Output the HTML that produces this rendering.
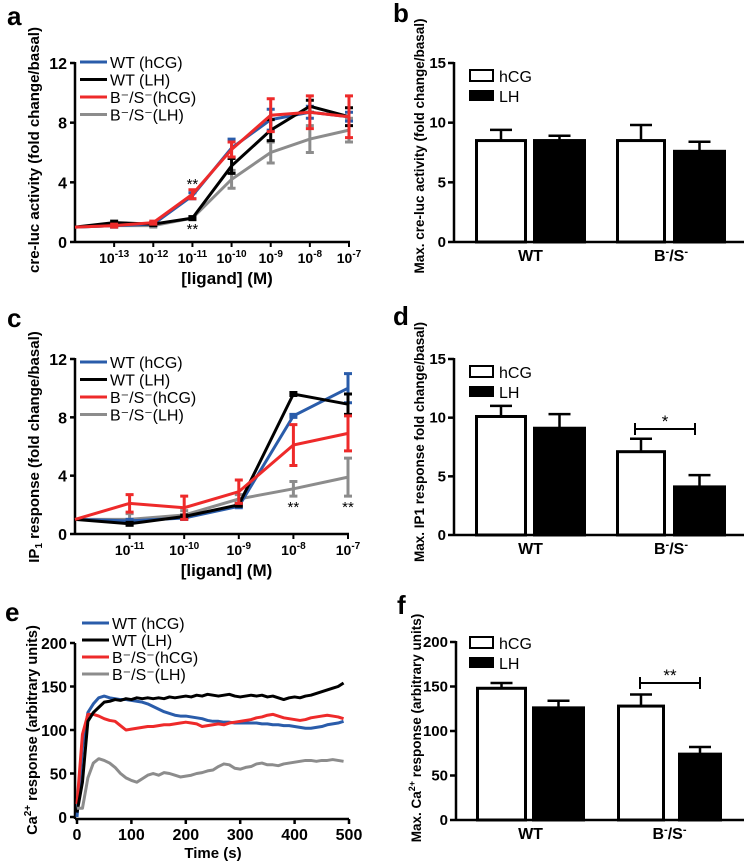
<!DOCTYPE html>
<html><head><meta charset="utf-8"><style>
body{margin:0;background:#fff;}
svg{display:block;font-family:"Liberation Sans",Arial,sans-serif;}
.t{font-weight:bold;}
.lg{font-size:16px;}
</style></head><body>
<svg id="fig" width="744" height="866" viewBox="0 0 744 866"></svg>
<script>
// ---- Panel a data ----
const aTicks = ["-13","-12","-11","-10","-9","-8","-7"];
const aBlue  = [1,1.1,1.2,3.1,6.3,8.2,8.7,8.4];
const aBlack = [1,1.3,1.2,1.6,5.1,7.5,9.1,8.4];
const aRed   = [1,1.1,1.3,3.2,6.2,8.5,8.7,8.4];
const aGray  = [1,1.1,1.1,1.6,4.2,6.0,6.9,7.5];
const aRedErr  = [0,0.1,0.1,0.3,0.5,1.1,1.1,1.4];
const aGrayErr = [0,0.1,0.1,0.1,0.6,0.7,0.9,0.8];
const aBlackErr= [0,0.1,0.1,0.1,0.5,0.7,0.4,0.6];
const aBlueErr = [0,0.1,0.1,0.2,0.6,0.7,0.4,0.3];
// ---- Panel c data ----
const cTicks = ["-11","-10","-9","-8","-7"];
const cBlue  = [1,0.9,1.1,1.9,8.1,10];
const cBlack = [1,0.7,1.2,2.0,9.6,8.9];
const cRed   = [1,2.1,1.8,2.9,6.1,6.9];
const cGray  = [1,1.0,1.3,2.4,3.1,3.9];
const cRedErr  = [0,0.6,0.8,0.8,1.4,1.2];
const cGrayErr = [0,0.4,0.3,0.3,0.5,1.3];
const cBlueErr = [0,0.1,0.1,0.1,0.1,1.0];
const cBlackErr= [0,0.1,0.1,0.1,0.1,0.7];
// ---- Panel e data (10 s steps) ----
const eTime = [0,10,20,30,40,50,60,70,80,90,100,110,120,130,140,150,160,170,180,190,200,210,220,230,240,250,260,270,280,290,300,310,320,330,340,350,360,370,380,390,400,410,420,430,440,450,460,470,480,490];
const eBlue = [0,80,120,130,137,139,137,136,135,135,134,133,132,130,127,124,121,119,117,116,116,115,114,113,111,110,110,109,109,108,108,108,108,108,107,107,106,106,105,105,104,103,102,102,103,104,106,107,108,110];
const eBlack= [5,40,110,120,126,132,133,135,134,136,135,137,136,137,136,137,136,138,137,138,139,138,140,139,141,140,139,140,141,139,138,139,140,139,140,138,139,137,135,137,138,137,139,140,142,144,146,148,150,154];
const eRed  = [15,95,118,118,116,113,111,110,105,100,101,102,103,104,104,105,106,106,107,108,109,108,107,104,105,106,107,106,108,109,110,111,112,114,115,117,118,116,114,113,112,111,112,114,115,116,117,116,115,113];
const eGray = [10,10,45,62,67,65,62,57,50,45,42,40,44,48,50,48,51,50,48,46,47,48,50,51,53,54,58,61,60,56,55,57,58,61,62,60,60,59,61,62,63,64,65,65,64,65,65,66,65,64];
// ---- Bar panels ----
const barGroups = ["WT","B/S"];
const bHcg=[8.5,8.5], bHcgErr=[0.9,1.3], bLh=[8.5,7.6], bLhErr=[0.4,0.8];
const dHcg=[10.1,7.1], dHcgErr=[0.9,1.1], dLh=[9.1,4.1], dLhErr=[1.2,1.0];
const fHcg=[148,128], fHcgErr=[6,13], fLh=[126,74], fLhErr=[8,8];

const NS="http://www.w3.org/2000/svg";
const svg=document.getElementById('fig');
function mk(tag,attrs,parent,txt){const e=document.createElementNS(NS,tag);for(const k in attrs)e.setAttribute(k,attrs[k]);if(txt!==undefined)e.textContent=txt;(parent||svg).appendChild(e);return e;}
function grp(name){const g=mk('g',{});


return g;}
const BLUE="#2a5caa",RED="#ee2a2a",GRAY="#8c8c8c",BLACK="#000";

function panelLabel(t,x,y){const e=mk('text',{x:x,y:y,'font-size':26,'font-weight':'bold'},svg,t);

}

function yTitle(g,x,cy,txt,fs){const e=mk('text',{x:0,y:0,transform:`translate(${x},${cy}) rotate(-90)`,'text-anchor':'middle',class:'t','font-size':fs||15},g);
e.innerHTML=txt;

}

function lineLegend(g,x,y0,dy){const items=[["WT (hCG)",BLUE],["WT (LH)",BLACK],["B\u207B/S\u207B(hCG)",RED],["B\u207B/S\u207B(LH)",GRAY]];
items.forEach((it,i)=>{const y=y0+i*dy;
const l=mk('line',{x1:x,x2:x+27,y1:y,y2:y,stroke:it[1],'stroke-width':3},g);


const t=mk('text',{x:x+30,y:y+6,class:'lg'},g,it[0]);

});}

function dosePanel(name,top,bot,ymax,ystep,x0,x1,ticks,series,stars){
 const g=grp(name);
 const n=ticks.length; const sp=(x1-x0)/n;
 const X=i=>x0+i*sp; const Y=v=>bot-(v/ymax)*(bot-top);
 for(let v=0;v<=ymax;v+=ystep){const y=Y(v);mk('line',{x1:x0-5,x2:x0,y1:y,y2:y,stroke:'#000','stroke-width':2.5},g);
  const t=mk('text',{x:x0-8,y:y+6,'text-anchor':'end',class:'t','font-size':16},g,v);
  
  }
 mk('line',{x1:x0,x2:x0,y1:top-1,y2:bot,stroke:'#000','stroke-width':2.5},g);
 mk('line',{x1:x0,x2:x1+1,y1:bot,y2:bot,stroke:'#000','stroke-width':2.5},g);
 ticks.forEach((tk,i)=>{const x=X(i+1);mk('line',{x1:x,x2:x,y1:bot,y2:bot+5,stroke:'#000','stroke-width':2},g);
  const t=mk('text',{x:x,y:bot+21,'text-anchor':'middle',class:'t','font-size':14},g);
  t.innerHTML=`10<tspan dy="-6" font-size="10">${tk}</tspan>`;
  
  });
 series.forEach(s=>{const pts=s.v.map((v,i)=>X(i)+','+Y(v)).join(' ');
  const p=mk('polyline',{points:pts,fill:'none',stroke:s.c,'stroke-width':3},g);
  
  
  s.v.forEach((v,i)=>{if(!s.e[i])return;const x=X(i);
   const b=mk('path',{d:`M${x},${Y(v-s.e[i])}V${Y(v+s.e[i])}M${x-4},${Y(v-s.e[i])}h8M${x-4},${Y(v+s.e[i])}h8`,stroke:s.c,'stroke-width':3,fill:'none'},g);
   
   });});
 stars.forEach(st=>{const t=mk('text',{x:X(st[0]),y:st[1],'text-anchor':'middle','font-size':15},g,'**');
  
  });
 const xt=mk('text',{x:(x0+x1)/2+15,y:bot+42,'text-anchor':'middle',class:'t','font-size':17},g,'[ligand]  (M)');
 
 
 return g;}

// Panel a
panelLabel('a',7,25);
let ga=dosePanel('panel-a-chart',63,242,12,4,75,349,aTicks,[
 {n:'bs-lh',v:aGray,e:aGrayErr,c:GRAY},{n:'wt-hcg',v:aBlue,e:aBlueErr,c:BLUE},{n:'wt-lh',v:aBlack,e:aBlackErr,c:BLACK},{n:'bs-hcg',v:aRed,e:aRedErr,c:RED}],
 [[3,189],[3,234]]);
yTitle(ga,39,150,'cre-luc activity (fold change/basal)');
lineLegend(ga,80,62,17.5);

// Panel c
panelLabel('c',7,327);
let gc=dosePanel('panel-c-chart',359,534,12,4,75,348,cTicks,[
 {n:'bs-lh',v:cGray,e:cGrayErr,c:GRAY},{n:'wt-hcg',v:cBlue,e:cBlueErr,c:BLUE},{n:'wt-lh',v:cBlack,e:cBlackErr,c:BLACK},{n:'bs-hcg',v:cRed,e:cRedErr,c:RED}],
 [[4,512],[5,512]]);
yTitle(gc,39,447,'IP<tspan font-size="10" dy="3">1</tspan><tspan dy="-3"> response (fold change/basal)</tspan>');
lineLegend(gc,80,362,17.5);

// Panel e
panelLabel('e',5,621);
(function(){const g=grp('panel-e-chart');const x0=77,x1=349,top=643,bot=817;
 const X=t=>x0+t/500*(x1-x0), Y=v=>bot-v/200*(bot-top);
 for(let v=0;v<=200;v+=50){const y=Y(v);mk('line',{x1:x0-7,x2:x0-2,y1:y,y2:y,stroke:'#000','stroke-width':2.5},g);
  const t=mk('text',{x:x0-10,y:y+6,'text-anchor':'end',class:'t','font-size':15.5},g,v);
  
  }
 for(let t=0;t<=500;t+=100){const x=X(t);mk('line',{x1:x,x2:x,y1:bot+2,y2:bot+7,stroke:'#000','stroke-width':2.5},g);
  const tt=mk('text',{x:x,y:bot+23,'text-anchor':'middle',class:'t','font-size':16},g,t);
  
  }
 mk('line',{x1:x0-2,x2:x0-2,y1:top,y2:bot+2,stroke:'#000','stroke-width':2.5},g);
 mk('line',{x1:x0-2,x2:x1,y1:bot+2,y2:bot+2,stroke:'#000','stroke-width':2.5},g);
 [[eBlue,BLUE,'wt-hcg'],[eRed,RED,'bs-hcg'],[eBlack,BLACK,'wt-lh'],[eGray,GRAY,'bs-lh']].forEach(s=>{
  const pts=s[0].map((v,i)=>X(eTime[i])+','+Y(v)).join(' ');
  const p=mk('polyline',{points:pts,fill:'none',stroke:s[1],'stroke-width':3,'stroke-linejoin':'round'},g);
  
  });
 const xt=mk('text',{x:213,y:858,'text-anchor':'middle',class:'t','font-size':15},g,'Time (s)');
 
 
 yTitle(g,37,730,'Ca<tspan font-size="10" dy="-6">2+</tspan><tspan dy="6"> response (arbitrary units)</tspan>',14.5);
 lineLegend(g,82,623,17);
})();

// Bar panels
function barPanel(name,top,bot,ymax,ystep,x0,hc,he,lc,le,pos,sig,title,ty,tfs,tx){
 const g=grp(name);const Y=v=>bot-v/ymax*(bot-top);
 for(let v=0;v<=ymax;v+=ystep){const y=Y(v);mk('line',{x1:x0-6,x2:x0,y1:y,y2:y,stroke:'#000','stroke-width':2.5},g);
  const t=mk('text',{x:x0-8,y:y+5,'text-anchor':'end',class:'t','font-size':15},g,v);
  
  }
 mk('line',{x1:x0,x2:x0,y1:top-1,y2:bot,stroke:'#000','stroke-width':2.5},g);
 mk('line',{x1:x0,x2:744,y1:bot,y2:bot,stroke:'#000','stroke-width':2.5},g);
 barGroups.forEach((grpName,i)=>{
  [[hc,he,'#fff','hcg',pos[i][0]],[lc,le,'#000','lh',pos[i][1]]].forEach(b=>{
   const v=b[0][i],e=b[1][i],xa=b[4][0],xb=b[4][1],xm=(xa+xb)/2;
   const eb=mk('path',{d:`M${xm},${Y(v)}V${Y(v+e)}M${xm-11},${Y(v+e)}h22`,stroke:'#000','stroke-width':2.5,fill:'none'},g);
   
   
   const r=mk('rect',{x:xa+1.5,y:Y(v),width:xb-xa-3,height:bot-Y(v),fill:b[2],stroke:'#000','stroke-width':3},g);
   
   });
  const cx=(pos[i][0][0]+pos[i][1][1])/2;
  const t=mk('text',{x:cx,y:bot+19,'text-anchor':'middle',class:'t','font-size':16},g);
  t.innerHTML= i==0?'WT':'B<tspan dy="-6" font-size="11">-</tspan><tspan dy="6">/S</tspan><tspan dy="-6" font-size="11">-</tspan>';
  
  });
 if(sig){const s=mk('path',{d:`M${sig[0]},${sig[2]}H${sig[1]}M${sig[0]},${sig[2]-6}v12M${sig[1]},${sig[2]-6}v12`,stroke:'#000','stroke-width':2,fill:'none'},g);
  
  
  const st=mk('text',{x:(sig[0]+sig[1])/2,y:sig[2]-2,'text-anchor':'middle','font-size':17},g,sig[3]);
  
  }
 const ly=top+ (ymax==200?-5:7);
 const r1=mk('rect',{x:470,y:ly,width:23,height:11,fill:'#fff',stroke:'#000','stroke-width':2},g);
 
 
 const t1=mk('text',{x:499,y:ly+12,class:'lg'},g,'hCG');
 
 
 const r2=mk('rect',{x:469,y:ly+20,width:25,height:11,fill:'#000'},g);
 
 
 const t2=mk('text',{x:499,y:ly+32,class:'lg'},g,'LH');
 
 
 yTitle(g,tx,ty,title,tfs);
}
const posB=[[[475,527],[533,586]],[[616,666],[673,726]]];
panelLabel('b',393,22);
barPanel('panel-b-chart',63,242,15,5,454,bHcg,bHcgErr,bLh,bLhErr,posB,null,'Max. cre-luc activity (fold change/basal)',146,13.5,424);
panelLabel('d',393,325);
barPanel('panel-d-chart',359,535,15,5,454,dHcg,dHcgErr,dLh,dLhErr,posB,[635,695,429,'*'],'Max. IP1 response fold change/basal)',442,13.5,424);
panelLabel('f',397,614);
barPanel('panel-f-chart',642,820,200,50,456,fHcg,fHcgErr,fLh,fLhErr,[[[476,527],[532,585]],[[617,665],[678,722]]],[640,700,683,'**'],'Max. Ca<tspan font-size="9" dy="-6">2+</tspan><tspan dy="6"> response (arbitrary units)</tspan>',728,13.5,421);
</script>
</body></html>
